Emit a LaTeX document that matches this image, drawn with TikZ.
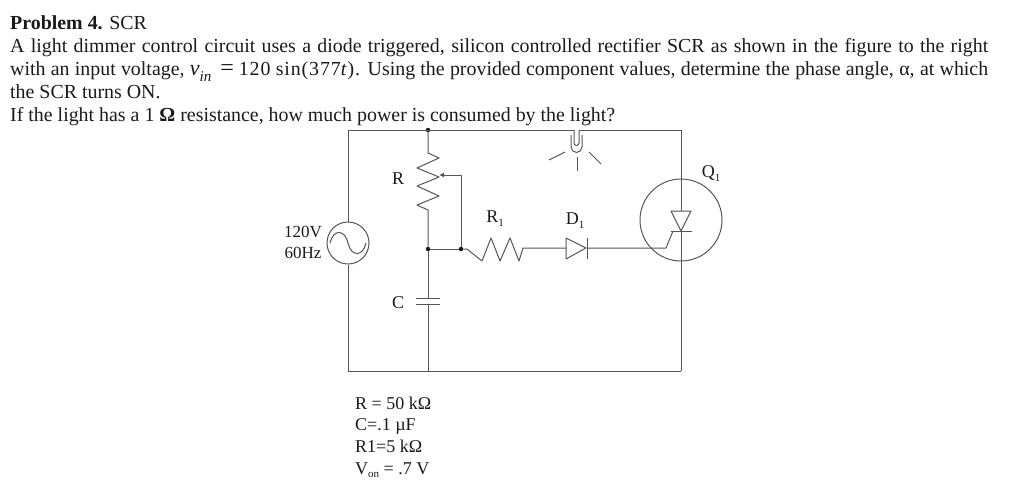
\documentclass[tikz,border=0pt]{standalone}
\usepackage{fontspec}
\setmainfont{Liberation Serif}
\usetikzlibrary{arrows.meta}
\definecolor{wirec}{HTML}{555555}
\definecolor{inkc}{HTML}{1A1A1A}
\newcommand{\mathspaced}[1]{{\addfontfeature{LetterSpace=4.5}#1}}
\newcommand{\subs}[1]{\raisebox{-0.22em}{\fontsize{11}{11}\selectfont #1}}
\tikzset{
  wire/.style={draw=wirec,line width=1pt,line join=round},
  dotnode/.style={circle,fill=inkc,inner sep=0pt,minimum size=4.5pt},
  para/.style={anchor=base west,inner sep=0pt,text=inkc,font=\fontsize{19.9}{24}\selectfont},
  lab/.style={inner sep=0pt,text=inkc,font=\fontsize{18}{20}\selectfont},
  srclab/.style={inner sep=0pt,text=inkc,font=\fontsize{17}{20}\selectfont},
  vals/.style={anchor=base west,inner sep=0pt,text=inkc,font=\fontsize{18}{20}\selectfont},
  ring/.style={circle,draw=wirec,line width=1pt,inner sep=0pt,fill=none}
}
\begin{document}
\begin{tikzpicture}[x=1pt,y=-1pt]
\useasboundingbox (0,0) rectangle (1024,501);
% text
\node[para] (t1) at (10,29) {\textbf{Problem 4.} SCR};
\node[para] (t2) at (10,52) {\makebox[978pt][s]{A light dimmer control circuit uses a diode triggered, silicon controlled rectifier SCR as shown in the figure to the right}};
\node[para] (t3) at (10,75.5) {\makebox[978pt][s]{with an input voltage, {\fontsize{22}{24}\selectfont\textit{v}}\raisebox{-0.28em}{\fontsize{15}{15}\selectfont\textit{in}}\kern9pt{\fontsize{24}{24}\selectfont =}\kern5pt\mathspaced{120} \mathspaced{sin(377\textit{t}).} Using the provided component values, determine the phase angle, α, at which}};
\node[para] (t4) at (10,98) {the SCR turns ON.};
\node[para] (t5) at (10,121) {If the light has a 1 \textbf{Ω} resistance, how much power is consumed by the light?};
% corners and junctions
\coordinate (tl) at (348,130);
\coordinate (bl) at (348,371);
\coordinate (tr) at (681,130);
\coordinate (br) at (681,371);
\coordinate (bm) at (428,371);
\coordinate (lampL) at (574,130);
\coordinate (lampR) at (579,130);
\node[dotnode] (top) at (428,130) {};
\node[dotnode] (mid) at (428,249) {};
\node[dotnode] (tap) at (461,249) {};
% source
\node[ring,minimum size=42pt] (src) at (348,243) {};
\draw[wire] (tl) -- (src.north);
\draw[wire] (src.south) -- (bl);
\draw[wire] (330,243) .. controls (333,229) and (345,229) .. (348,243) .. controls (351,257) and (363,257) .. (366,243);
% outer wires
\draw[wire] (lampL) -- (tl);
\draw[wire] (lampR) -- (tr);
\draw[wire] (bl) -- (br);
% lamp
\draw[wire] (lampL) -- (574,143) arc[start angle=180,end angle=360,radius=2.5pt] -- (lampR);
\draw[wire] (571,135) -- (571,147) arc[start angle=180,end angle=360,radius=5.5pt] -- (582,135);
\draw[wire] (549,160) -- (565,152);
\draw[wire] (577,157) -- (577,171);
\draw[wire] (589,152) -- (601,164);
% potentiometer R
\coordinate (rTop) at (428,153);
\coordinate (rBot) at (428,210);
\draw[wire] (top) -- (rTop) -- (439,158) -- (417,168) -- (439,177) -- (417,186) -- (439,196) -- (417,205) -- (rBot) -- (mid);
\coordinate (wiperC) at (461,175);
\coordinate (wiperT) at (439,175);
\draw[wire,-{Latex[length=5pt,width=5pt]}] (tap) -- (wiperC) -- (wiperT);
\draw[wire] (mid) -- (tap);
% capacitor
\coordinate (capT) at (428,298);
\coordinate (capB) at (428,304);
\draw[wire] (mid) -- (capT);
\draw[wire] (capB) -- (bm);
\draw[wire] (416,298) -- (440,298);
\draw[wire] (416,304) -- (440,304);
% R1, D1
\coordinate (dA) at (566,248);
\coordinate (dK) at (587,248);
\draw[wire] (tap) -- (467,249) -- (482,261) -- (491,238) -- (500,261) -- (510,238) -- (519,261) -- (523,248) -- (dA);
\draw[wire] (566,238) -- (586,248) -- (566,259) -- cycle;
\draw[wire] (587,238) -- (587,259);
% SCR
\node[ring,minimum size=82pt] (q) at (681,220) {};
\coordinate (scrA) at (681,211);
\coordinate (scrK) at (681,231);
\draw[wire] (tr) -- (scrA);
\draw[wire] (scrK) -- (br);
\draw[wire] (671,211) -- (691,211) -- (681,231) -- cycle;
\draw[wire] (671,231) -- (692,231);
\draw[wire] (dK) -- (666,248) -- (673,231);
% labels
\node[lab] (lR) at (398,179) {R};
\node[lab] (lC) at (398,303) {C};
\node[lab] (lR1) at (495,219) {R\subs{1}};
\node[lab] (lD1) at (575,221) {D\subs{1}};
\node[lab] (lQ1) at (711,174) {Q\subs{1}};
\node[srclab] (l120) at (303,232) {120V};
\node[srclab] (l60) at (303,253) {60Hz};
% values
\node[vals] (v1) at (355,409) {R = 50 kΩ};
\node[vals] (v2) at (355,430) {C=.1 µF};
\node[vals] (v3) at (355,452) {R1=5 kΩ};
\node[vals] (v4) at (355,474) {V\subs{on} = .7 V};
\end{tikzpicture}
\end{document}
